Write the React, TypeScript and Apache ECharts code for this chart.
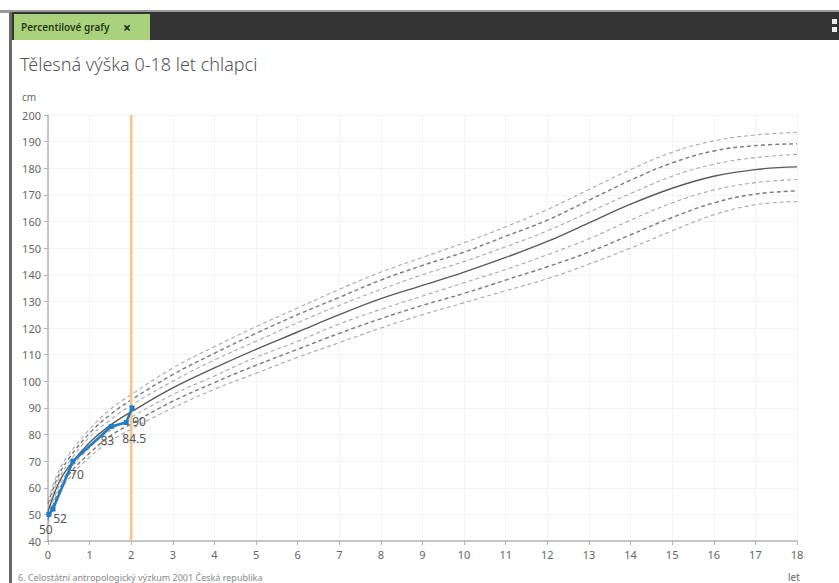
import React, { useEffect, useRef } from "react";
import * as echarts from "echarts";

const ages = [0, 0.25, 0.5, 1, 1.5, 2, 3, 4, 5, 6, 7, 8, 9, 10, 11, 12, 13, 14, 15, 16, 17, 18];
const p3 = [46.5, 57, 63.5, 71.5, 77.5, 82, 90, 97, 103, 109, 114.5, 120, 125, 129.5, 134, 138.5, 144, 150, 156.5, 162.5, 166.3, 167.5];
const p10 = [48, 58.5, 65, 73, 79.5, 84, 92.5, 99.5, 106, 112, 118, 123.5, 128.5, 133, 138, 143, 148.5, 155, 161.5, 167, 170.3, 171.5];
const p25 = [49.5, 60, 66.5, 75, 81.5, 86.5, 95, 102, 109, 115, 121.5, 127, 132, 137, 142, 147.5, 153.5, 160.5, 167, 171.8, 174.6, 175.8];
const p50 = [51, 61.5, 68, 77, 83.5, 88.5, 97.5, 105, 112, 118.5, 125, 131, 136, 141, 146.5, 152.5, 159.5, 166.5, 172.5, 177, 179.5, 180.5];
const p75 = [52.5, 63, 69.5, 79, 85.5, 91, 100, 108, 115, 122, 128.5, 134.5, 140, 145, 150.5, 156.5, 163.5, 170.5, 177, 181.5, 184, 185.2];
const p90 = [54, 64.5, 71, 80.5, 87.5, 93, 102.5, 110.5, 118, 125, 131.5, 138, 143.5, 148.5, 154.5, 160.5, 168, 175.5, 182, 186.5, 188.5, 189.2];
const p97 = [55.5, 66, 72.5, 82, 89.5, 95, 105, 113, 120.5, 127.5, 134.5, 141, 146.5, 152, 158, 164.5, 172, 179.5, 186, 190.3, 192.5, 193.5];

const patientAges = [0.02, 0.12, 0.6, 1.52, 1.88, 2.02];
const patientHeights = [50, 52, 70, 83, 84.5, 90];
// label offsets per measurement (pixels), to keep them readable
const patientLabelOffsets = [
  [-3, 2],
  [7, -4],
  [4, 0],
  [-4, 0],
  [8, 2],
  [7, 0],
];

const currentAge = 2;
const xTicks = { min: 0, max: 18, interval: 1 };
const yTicks = { min: 40, max: 200, interval: 10 };

const FONT = "'Noto Sans', 'Open Sans', sans-serif";

function pairs(vals: number[]) {
  return ages.map((a, i) => [a, vals[i]]);
}

export default function App() {
  const ref = useRef<HTMLDivElement>(null);
  useEffect(() => {
    if (!ref.current) return;
    const chart = echarts.init(ref.current, null, { renderer: "svg" });
    const dashed = (name: string, vals: number[], dark: boolean) => ({
      name,
      type: "line",
      smooth: 0.4,
      symbol: "none",
      silent: true,
      data: pairs(vals),
      lineStyle: {
        color: dark ? "#7a7a7a" : "#a8a8a8",
        width: dark ? 1.4 : 1.1,
        type: [4, 3],
      },
      z: 2,
    });
    chart.setOption({
      animation: false,
      backgroundColor: "#ffffff",
      grid: { left: 48, right: 42, top: 115, bottom: 42, containLabel: false },
      xAxis: {
        type: "value",
        min: xTicks.min,
        max: xTicks.max,
        interval: xTicks.interval,
        axisLine: { show: true, lineStyle: { color: "#b5b5b5", width: 1.5 } },
        axisTick: { show: true, inside: false, length: 4, lineStyle: { color: "#b5b5b5" } },
        axisLabel: { color: "#666", fontSize: 11, fontFamily: FONT, margin: 8 },
        splitLine: { show: true, lineStyle: { color: "#f3f3f3", width: 1 } },
      },
      yAxis: {
        type: "value",
        min: yTicks.min,
        max: yTicks.max,
        interval: yTicks.interval,
        axisLine: { show: true, lineStyle: { color: "#b5b5b5", width: 1.5 } },
        axisTick: { show: true, length: 4, lineStyle: { color: "#b5b5b5" } },
        axisLabel: { color: "#666", fontSize: 11, fontFamily: FONT, margin: 7 },
        splitLine: { show: true, lineStyle: { color: "#f3f3f3", width: 1 } },
      },
      series: [
        dashed("P3", p3, false),
        dashed("P10", p10, true),
        dashed("P25", p25, false),
        {
          name: "P50",
          type: "line",
          smooth: 0.4,
          symbol: "none",
          silent: true,
          data: pairs(p50),
          lineStyle: { color: "#5a5a5a", width: 1.4 },
          z: 3,
        },
        dashed("P75", p75, false),
        dashed("P90", p90, true),
        dashed("P97", p97, false),
        {
          name: "Věk",
          type: "line",
          symbol: "none",
          silent: true,
          data: [
            [currentAge, yTicks.min],
            [currentAge, yTicks.max],
          ],
          lineStyle: { color: "#f6c587", width: 2.5 },
          z: 4,
        },
        {
          name: "Pacient",
          type: "line",
          symbol: "rect",
          symbolSize: 5,
          data: patientAges.map((a, i) => ({
            value: [a, patientHeights[i]],
            label: { offset: patientLabelOffsets[i] },
          })),
          lineStyle: { color: "#1f7cc7", width: 2.6 },
          itemStyle: { color: "#1f7cc7" },
          label: {
            show: true,
            position: "bottom",
            distance: 5,
            color: "#555",
            fontSize: 12,
            fontFamily: FONT,
            formatter: (p: any) => String(p.value[1]),
          },
          z: 6,
        },
      ],
      graphic: [
        { type: "rect", shape: { x: 0, y: 10, width: 839, height: 3 }, style: { fill: "#9a9a9a" }, silent: true },
        { type: "rect", shape: { x: 9, y: 12, width: 830, height: 28 }, style: { fill: "#343434" }, silent: true },
        { type: "rect", shape: { x: 9, y: 12, width: 3, height: 571 }, style: { fill: "#6a6a6a" }, silent: true },
        { type: "rect", shape: { x: 14, y: 14, width: 136, height: 26 }, style: { fill: "#a9d27d" }, silent: true },
        {
          type: "text",
          x: 21,
          y: 27,
          style: { text: "Percentilové grafy", fill: "#2a3a1a", font: `600 10px ${FONT}`, textVerticalAlign: "middle" },
          silent: true,
        },
        {
          type: "text",
          x: 123,
          y: 27,
          style: { text: "×", fill: "#222", font: `bold 14px ${FONT}`, textVerticalAlign: "middle" },
          silent: true,
        },
        { type: "rect", shape: { x: 832, y: 19, width: 5, height: 5 }, style: { fill: "#eeeeee" }, silent: true },
        { type: "rect", shape: { x: 832, y: 27, width: 5, height: 5 }, style: { fill: "#eeeeee" }, silent: true },
        {
          type: "text",
          x: 20,
          y: 64,
          style: { text: "Tělesná výška 0-18 let chlapci", fill: "#555", font: `300 18px ${FONT}`, textVerticalAlign: "middle" },
          silent: true,
        },
        {
          type: "text",
          x: 22,
          y: 97,
          style: { text: "cm", fill: "#666", font: `10px ${FONT}`, textVerticalAlign: "middle" },
          silent: true,
        },
        {
          type: "text",
          x: 18,
          y: 577,
          style: { text: "6. Celostátní antropologický výzkum 2001 Česká republika", fill: "#888", font: `9px ${FONT}`, textVerticalAlign: "middle" },
          silent: true,
        },
        {
          type: "text",
          x: 788,
          y: 577,
          style: { text: "let", fill: "#666", font: `10px ${FONT}`, textVerticalAlign: "middle" },
          silent: true,
        },
      ],
    });
    return () => chart.dispose();
  }, []);
  return (
    <div
      ref={ref}
      style={{ position: "fixed", left: 0, top: 0, width: 839, height: 583 }}
    />
  );
}
